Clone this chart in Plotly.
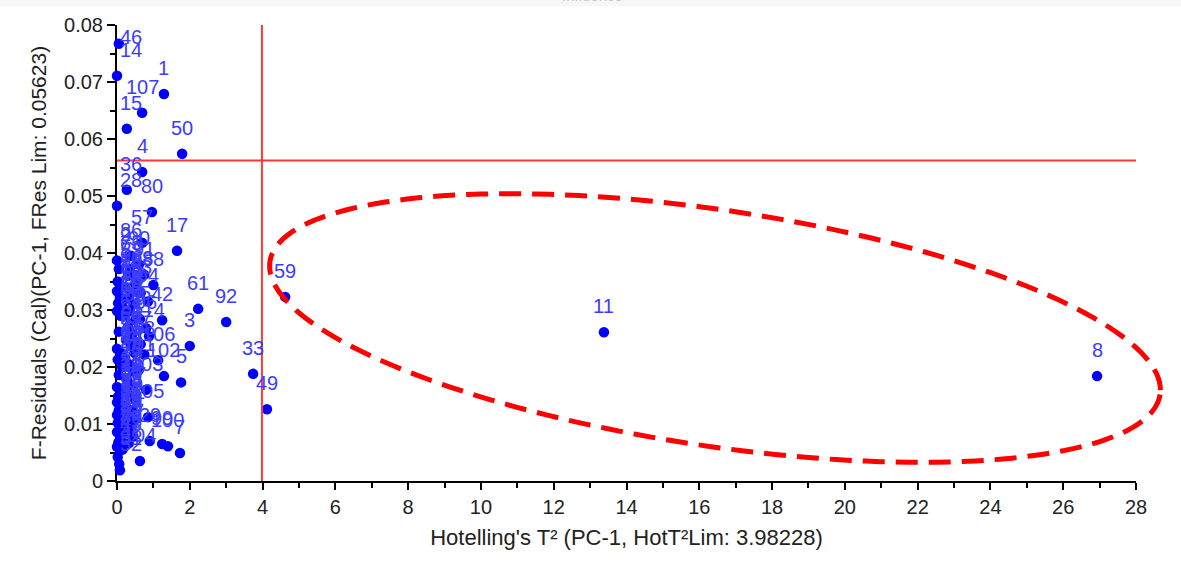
import numpy as np
import plotly.graph_objects as go

# ---------------- data ----------------
sample_ids = [
    "46", "14", "1", "107", "15", "50", "4", "36", "28", "80", "57", "17", "86", "75",
    "108", "88", "61", "92", "42", "114", "3", "106", "102", "5", "33", "49", "59",
    "11", "8", "7", "99", "100", "29",
    "2", "6", "9", "10", "12", "13", "16", "18", "19", "20", "21", "22", "23", "24",
    "25", "26", "27", "30", "31", "32", "34", "35", "37", "38", "39", "40", "41",
    "43", "44", "45", "47", "48", "51", "52",
    "53", "54", "55", "56", "58", "60", "62", "63", "64", "65", "66", "67", "68",
    "69", "70", "71", "72", "73", "74", "76", "77", "78", "79", "81", "82", "83",
    "84", "85", "87", "89",
    "90", "91", "93", "94", "95", "96", "97", "98", "101", "103", "104", "105",
]
hotelling_t2 = [
    0.05, 0.00, 1.29, 0.69, 0.27, 1.79, 0.69, 0.27, 0.00, 0.96, 0.69, 1.65, 0.38, 0.35,
    0.50, 1.00, 2.23, 3.00, 1.24, 0.88, 2.00, 1.13, 1.29, 1.76, 3.74, 4.12, 4.62,
    13.38, 26.93, 1.73, 1.24, 1.40, 0.90,
    0.00, 0.05, 0.02, 0.12, 0.00, 0.08, 0.03, 0.15, 0.00, 0.10, 0.05, 0.00, 0.10, 0.02,
    0.14, 0.05, 0.00, 0.12, 0.03, 0.00, 0.10, 0.05, 0.00, 0.14, 0.02, 0.08, 0.00,
    0.12, 0.04, 0.00, 0.15, 0.02, 0.06, 0.08,
    0.30, 0.22, 0.40, 0.28, 0.45, 0.35, 0.20, 0.50, 0.30, 0.42, 0.25, 0.38, 0.48,
    0.22, 0.33, 0.45, 0.27, 0.40, 0.20, 0.35, 0.50, 0.25, 0.42, 0.30, 0.48, 0.22,
    0.38, 0.28, 0.45, 0.32,
    0.60, 0.75, 0.65, 0.85, 0.63, 0.80, 0.65, 0.75, 0.60, 0.80, 0.63, 0.85,
]
f_residuals = [
    0.0767, 0.0711, 0.0679, 0.0646, 0.0618, 0.0574, 0.0542, 0.0511, 0.0483, 0.0472,
    0.0418, 0.0404, 0.0395, 0.0372, 0.0345, 0.0344, 0.0302, 0.0279, 0.0282, 0.0254,
    0.0237, 0.0212, 0.0184, 0.0173, 0.0188, 0.0126, 0.0323, 0.0261, 0.0184, 0.0049,
    0.0065, 0.0061, 0.0070,
    0.0387, 0.0372, 0.0350, 0.0342, 0.0333, 0.0322, 0.0312, 0.0305, 0.0298, 0.0290,
    0.0262, 0.0232, 0.0225, 0.0213, 0.0200, 0.0186, 0.0165, 0.0158, 0.0148, 0.0138,
    0.0132, 0.0124, 0.0116, 0.0110, 0.0102, 0.0094, 0.0086, 0.0078, 0.0068, 0.0060,
    0.0055, 0.0042, 0.0030, 0.0019,
    0.0360, 0.0340, 0.0330, 0.0320, 0.0310, 0.0298, 0.0290, 0.0282, 0.0270, 0.0258,
    0.0248, 0.0238, 0.0225, 0.0215, 0.0205, 0.0192, 0.0178, 0.0168, 0.0160, 0.0150,
    0.0142, 0.0132, 0.0124, 0.0116, 0.0110, 0.0102, 0.0096, 0.0086, 0.0078, 0.0066,
    0.0380, 0.0362, 0.0330, 0.0315, 0.0284, 0.0268, 0.0240, 0.0222, 0.0195, 0.0160,
    0.0035, 0.0112,
]

HOT_T2_LIM = 3.98228
F_RES_LIM = 0.05623
chart_title = "Influence"
x_title = "Hotelling's T² (PC-1, HotT²Lim: 3.98228)"
y_title = "F-Residuals (Cal)(PC-1, FRes Lim: 0.05623)"

# ---------------- layout constants ----------------
W, H = 1181, 571
ML, MR, MT, MB = 117, 45, 25, 90
X_RANGE = [0, 28]
Y_RANGE = [0, 0.08]
PW, PH = W - ML - MR, H - MT - MB
FONT = "Liberation Sans, Arial, sans-serif"
LABEL_SIZE = 20


def to_px(x, y):
    px = ML + (x - X_RANGE[0]) / (X_RANGE[1] - X_RANGE[0]) * PW
    py = MT + (Y_RANGE[1] - y) / (Y_RANGE[1] - Y_RANGE[0]) * PH
    return px, py


def to_data(px, py):
    x = X_RANGE[0] + (px - ML) / PW * (X_RANGE[1] - X_RANGE[0])
    y = Y_RANGE[1] - (py - MT) / PH * (Y_RANGE[1] - Y_RANGE[0])
    return x, y


fig = go.Figure()

fig.add_trace(go.Scatter(
    x=hotelling_t2, y=f_residuals, mode="markers",
    marker=dict(color="#0000ff", size=10.5, line=dict(width=0)),
    cliponaxis=False, showlegend=False, hoverinfo="text", text=sample_ids,
))

# point labels, placed above each marker and kept inside the plot area
annotations = []
for sid, xv, yv in zip(sample_ids, hotelling_t2, f_residuals):
    px, py = to_px(xv, yv)
    lx, ly = px, py - 26
    hw = len(sid) * 0.556 * LABEL_SIZE / 2
    lx = max(lx, ML + hw + 3)
    ly = max(ly, MT + 12)
    ax, ay = to_data(lx, ly)
    annotations.append(dict(
        x=ax, y=ay, xref="x", yref="y", text=sid, showarrow=False,
        xanchor="center", yanchor="middle",
        font=dict(family=FONT, size=LABEL_SIZE, color="#3c3cff"),
    ))

# faint, clipped chart title at the very top
annotations.append(dict(
    x=(592 - ML) / PW, y=(H - MB - 6) / PH, xref="paper", yref="paper",
    text=chart_title, showarrow=False, xanchor="center", yanchor="bottom",
    font=dict(family=FONT, size=15, color="#c8c8c8"),
))

shapes = [
    dict(type="rect", xref="paper", yref="paper",
         x0=-ML / PW, x1=(W - ML) / PW, y0=(H - MB - 6) / PH, y1=(H - MB + 10) / PH,
         fillcolor="#f7f7f7", line=dict(width=0), layer="below"),
    dict(type="line", xref="x", yref="y", x0=HOT_T2_LIM, x1=HOT_T2_LIM,
         y0=Y_RANGE[0], y1=Y_RANGE[1], line=dict(color="rgb(255,55,55)", width=2)),
    dict(type="line", xref="x", yref="y", x0=X_RANGE[0], x1=X_RANGE[1],
         y0=F_RES_LIM, y1=F_RES_LIM, line=dict(color="rgb(255,55,55)", width=2)),
]

# hand-drawn style dashed ellipse highlighting the outliers (pixel-defined, paper coords)
cx, cy, a, b, phi = 715.0, 328.0, 450.0, 118.0, np.deg2rad(8.5)
theta = np.linspace(0, 2 * np.pi, 181)
ex = cx + a * np.cos(theta) * np.cos(phi) - b * np.sin(theta) * np.sin(phi)
ey = cy + a * np.cos(theta) * np.sin(phi) + b * np.sin(theta) * np.cos(phi)
pts = [((x - ML) / PW, (H - MB - y) / PH) for x, y in zip(ex, ey)]
path = "M " + " L ".join(f"{x:.5f},{y:.5f}" for x, y in pts) + " Z"
shapes.append(dict(type="path", xref="paper", yref="paper", path=path,
                   line=dict(color="#ff0000", width=5, dash="22px,11px")))

fig.update_layout(
    width=W, height=H,
    margin=dict(l=ML, r=MR, t=MT, b=MB, pad=0),
    paper_bgcolor="white", plot_bgcolor="white",
    font=dict(family=FONT, size=20, color="#222222"),
    shapes=shapes, annotations=annotations, showlegend=False,
)
fig.update_xaxes(
    range=X_RANGE, dtick=2, tick0=0, showgrid=False, zeroline=False,
    showline=True, linecolor="black", linewidth=2, layer="below traces",
    ticks="outside", ticklen=7, tickwidth=1.5, tickcolor="black",
    minor=dict(dtick=1, ticks="outside", ticklen=5, tickcolor="black", tickwidth=1.5),
    tickfont=dict(family=FONT, size=20, color="#222222"),
    title=dict(text=x_title, font=dict(family=FONT, size=22, color="#222222"), standoff=13),
)
fig.update_yaxes(
    range=Y_RANGE, dtick=0.01, tick0=0, showgrid=False, zeroline=False,
    showline=True, linecolor="black", linewidth=2, layer="below traces",
    ticks="outside", ticklen=8, tickwidth=1.5, tickcolor="black",
    minor=dict(dtick=0.005, ticks="outside", ticklen=5, tickcolor="black", tickwidth=1.5),
    tickformat="~g",
    tickfont=dict(family=FONT, size=20, color="#222222"),
    title=dict(text=y_title, font=dict(family=FONT, size=21, color="#222222"), standoff=12),
)

fig.write_html("out.html")
